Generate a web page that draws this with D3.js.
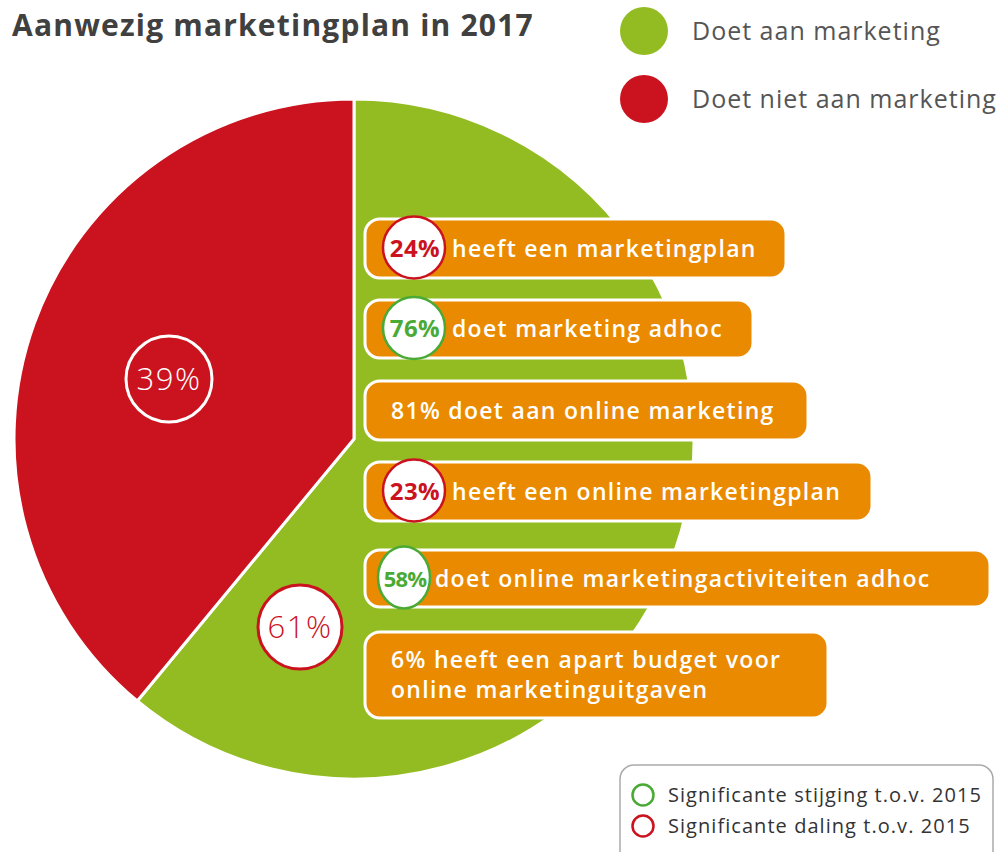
<!DOCTYPE html>
<html lang="nl">
<head>
  <meta charset="UTF-8">
  <title>Aanwezig marketingplan in 2017</title>
  <style>
    *{ margin:0; padding:0; box-sizing:border-box }
    html, body { width:100%; height:100%; background:#fff; overflow:hidden }
    svg { position:absolute; top:0; left:0; font-family:"Open Sans", sans-serif }
  </style>
  <script src="https://cdn.jsdelivr.net/npm/d3@7/dist/d3.min.js"></script>
</head>
<body>
  <svg id="chart" width="1000" height="852"></svg>
  <script>
    // data
    const sliceNames  = ["Doet aan marketing", "Doet niet aan marketing"];
    const sliceValues = [61, 39];
    const sliceColors = ["#93bc22", "#cb131f"];

    const boxPct   = ["24%", "76%", "81%", "23%", "58%", "6%"];
    const boxText  = ["heeft een marketingplan", "doet marketing adhoc", "doet aan online marketing",
                      "heeft een online marketingplan", "doet online marketingactiviteiten adhoc",
                      "heeft een apart budget voor|online marketinguitgaven"];
    const boxSignif = ["down", "up", null, "down", "up", null];   // vs 2015

    const signifNames = ["Significante stijging t.o.v. 2015", "Significante daling t.o.v. 2015"];

    const cx = 354, cy = 439, R = 340,
          orange = "#ea8a00", up = "#4aaa35", down = "#cb131f";

    const svg = d3.select("#chart");

    // title
    svg.append("text").attr("x", 12).attr("y", 36)
      .attr("font-size", 30).attr("font-weight", 700).attr("fill", "#404040")
      .attr("letter-spacing", 1.2)
      .text("Aanwezig marketingplan in 2017");

    // pie
    const pie = d3.pie().sort(null).value(d => d)(sliceValues);
    const arc = d3.arc().innerRadius(0).outerRadius(R);
    const pg = svg.append("g").attr("transform", `translate(${cx},${cy})`);
    pg.selectAll("path").data(pie).join("path")
      .attr("d", arc).attr("fill", (d, i) => sliceColors[i])
      .attr("stroke", "#fff").attr("stroke-width", 3).attr("stroke-linejoin", "round");

    // slice labels
    const lab = [
      { x: 169, y: 379, r: 43, fill: "none", stroke: "#fff", txt: "#fff" },
      { x: 300, y: 627, r: 42, fill: "#fff", stroke: down, txt: down }
    ];
    lab.forEach((l, i) => {
      svg.append("circle").attr("cx", l.x).attr("cy", l.y).attr("r", l.r)
        .attr("fill", l.fill).attr("stroke", l.stroke).attr("stroke-width", 3);
      svg.append("text").attr("x", l.x).attr("y", l.y + 11).attr("text-anchor", "middle")
        .attr("font-size", 31).attr("font-weight", 300).attr("letter-spacing", 1.5)
        .attr("fill", l.txt).text(sliceValues[1 - i] + "%");
    });

    // legend top
    const lg = svg.append("g");
    sliceNames.forEach((n, i) => {
      const y = 31 + i * 68;
      lg.append("circle").attr("cx", 644).attr("cy", y).attr("r", 24).attr("fill", sliceColors[i]);
      lg.append("text").attr("x", 692).attr("y", y + 9).attr("font-size", 25)
        .attr("letter-spacing", 1).attr("fill", "#555").text(n);
    });

    // orange boxes
    const boxY = [219, 300, 381, 462, 550, 632];
    const boxH = [59, 58, 59, 59, 57, 86];
    const boxR = [786, 753, 808, 872, 990, 828];
    const bg = svg.append("g");
    boxPct.forEach((p, i) => {
      const x0 = 365, y0 = boxY[i], h = boxH[i];
      bg.append("rect").attr("x", x0).attr("y", y0).attr("width", boxR[i] - x0).attr("height", h)
        .attr("rx", 15).attr("fill", orange).attr("stroke", "#fff").attr("stroke-width", 3);
      const mid = y0 + h / 2;
      const s = boxSignif[i];
      if (s) {
        const c = s === "up" ? up : down;
        const narrow = i === 4;
        const ecx = narrow ? 404 : 414, rx = narrow ? 26 : 31;
        bg.append("ellipse").attr("cx", ecx).attr("cy", mid - 1).attr("rx", rx).attr("ry", 31)
          .attr("fill", "#fff").attr("stroke", c).attr("stroke-width", 2.5);
        bg.append("text").attr("x", ecx + 1).attr("y", mid + 8).attr("text-anchor", "middle")
          .attr("font-size", narrow ? 22 : 24).attr("font-weight", 700).attr("fill", c)
          .attr("letter-spacing", narrow ? -0.8 : 0.4).text(p);
        bg.append("text").attr("x", narrow ? 435 : 452).attr("y", mid + 8)
          .attr("font-size", 23).attr("font-weight", 600).attr("letter-spacing", 1.3)
          .attr("fill", "#fff").text(boxText[i]);
      } else {
        const lines = boxText[i].split("|");
        lines.forEach((ln, k) => {
          bg.append("text").attr("x", 391)
            .attr("y", mid + 8 - (lines.length - 1) * 15 + k * 30)
            .attr("font-size", 23).attr("font-weight", 600).attr("letter-spacing", 1.3)
            .attr("fill", "#fff")
            .text((k === 0 ? p + " " : "") + ln);
        });
      }
    });

    // significance legend
    const sg = svg.append("g");
    sg.append("rect").attr("x", 620).attr("y", 765).attr("width", 373).attr("height", 110)
      .attr("rx", 14).attr("fill", "#fff").attr("stroke", "#aaa").attr("stroke-width", 1.5);
    signifNames.forEach((n, i) => {
      const y = 795 + i * 31;
      sg.append("circle").attr("cx", 643).attr("cy", y).attr("r", 10.5)
        .attr("fill", "none").attr("stroke", i ? down : up).attr("stroke-width", 2.5);
      sg.append("text").attr("x", 668).attr("y", y + 7).attr("font-size", 20)
        .attr("letter-spacing", 1.05).attr("fill", "#333").text(n);
    });
  </script>
</body>
</html>
